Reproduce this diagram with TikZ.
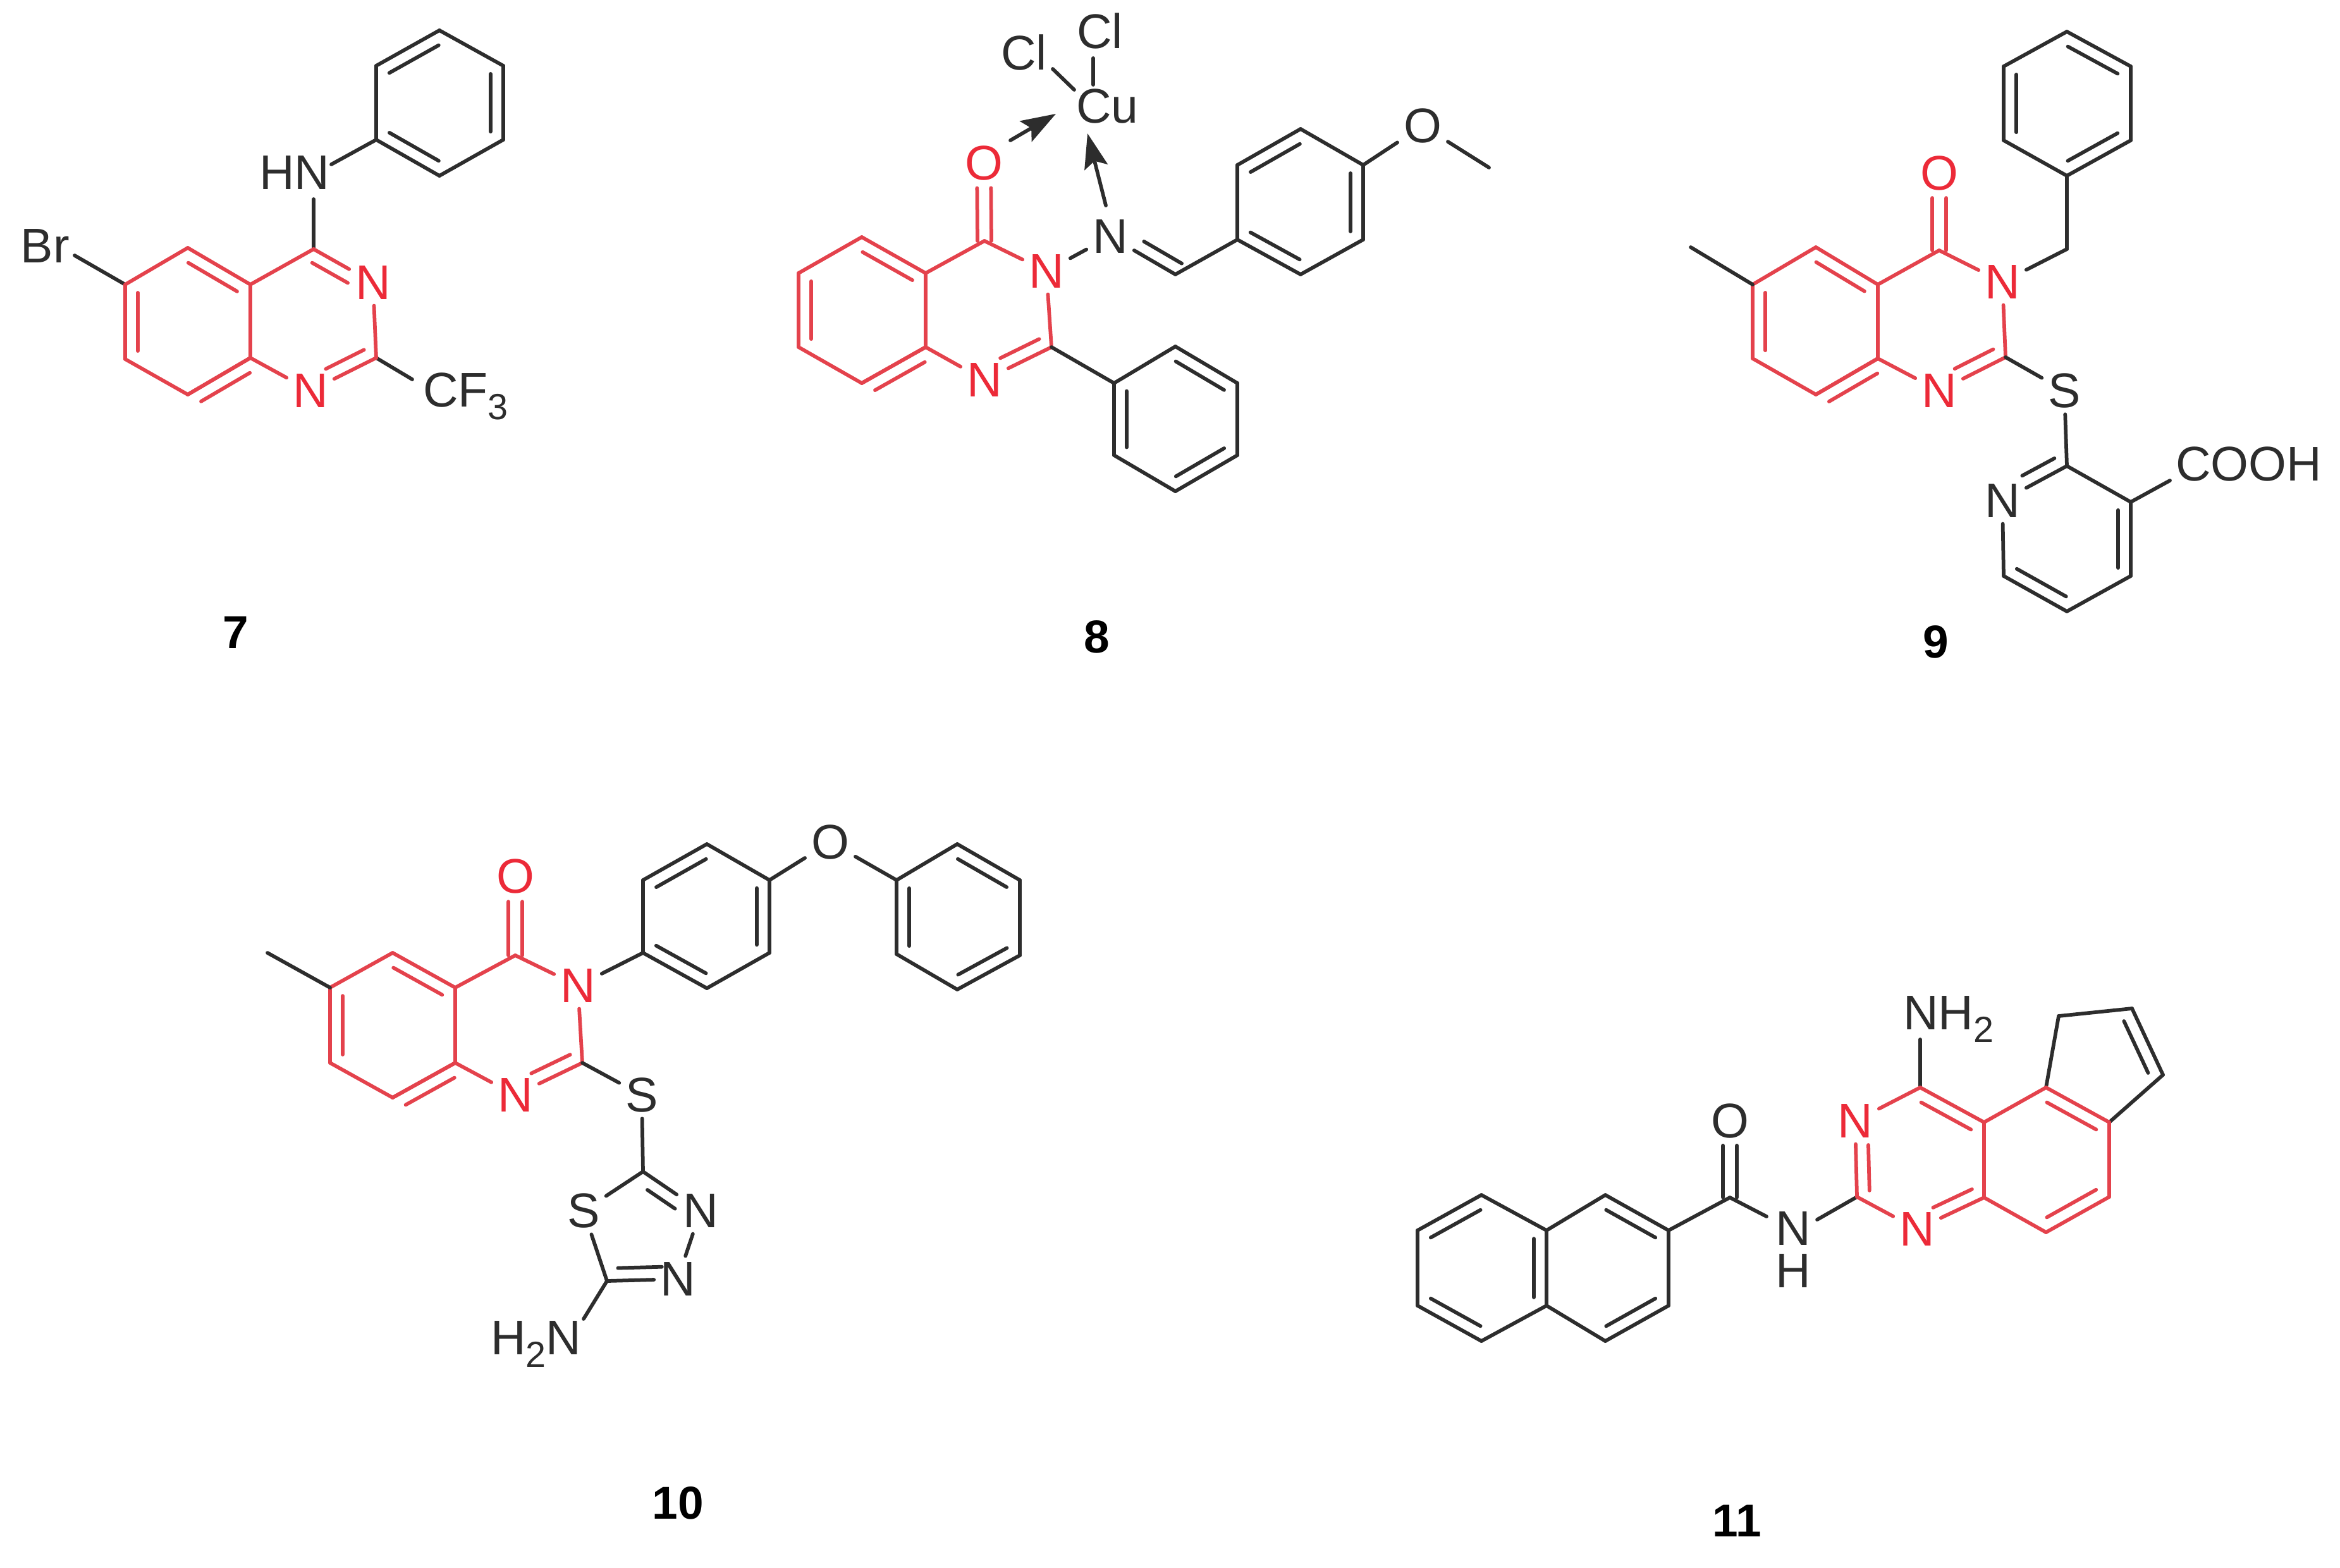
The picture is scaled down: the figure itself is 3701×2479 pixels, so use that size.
\documentclass[tikz,border=0pt]{standalone}
\usepackage{fontspec}
\setmainfont{Liberation Sans}
\usetikzlibrary{calc,arrows.meta}
\definecolor{mred}{RGB}{228,66,76}
\definecolor{tred}{RGB}{236,42,56}
\definecolor{mblk}{RGB}{45,45,45}
\tikzset{
  rb/.style={draw=mred,line width=1.15pt,line cap=round,line join=round},
  kb/.style={draw=mblk,line width=1.15pt,line cap=round,line join=round},
  atomk/.style={font=\fontsize{15.4}{18}\selectfont,text=mblk,inner sep=0pt,outer sep=2pt},
  atomr/.style={atomk,text=tred},
  lab/.style={atomk,anchor=base west},
  num/.style={font=\fontsize{14.6}{17}\selectfont\bfseries,text=black,inner sep=0pt,anchor=base},
  coord/.style={arrows={-{Stealth[length=11pt,width=7.5pt,inset=2pt]}}},
}
% double bond drawn a->b with the ring on its right; f1,f2 limit the inner line
\newcommand\dbl[5]{\draw[#1] (#2) -- (#3);
  \draw[#1] ($(#2)!#4!(#3)!4pt!-90:(#3)$) -- ($(#2)!#5!(#3)!4pt!-90:(#3)$);}
% centred double bond (C=O)
\newcommand\dbc[3]{%
  \draw[#1] ($(#2)!2.2pt!90:(#3)$) -- ($(#2)!.68!(#3)!2.2pt!90:(#3)$);
  \draw[#1] ($(#2)!2.2pt!-90:(#3)$) -- ($(#2)!.68!(#3)!2.2pt!-90:(#3)$);}
\newcommand\subs[1]{\raisebox{-4pt}{\fontsize{11.5}{12}\selectfont #1}}
\begin{document}
\begin{tikzpicture}[x=0.2pt,y=-0.2pt]
\useasboundingbox[fill=white] (0,0) rectangle (3701,2479);

% ---------- 7 ----------
\foreach \n/\x/\y in {a1/695/48,a2/796/104,a3/796/221,a4/695/278,a5/595/221,a6/595/104,
  aC4/496/394,aC2/595/566,aC8a/396/566,aC4a/396/450,aC5/297/392,aC6/198/450,aC7/198/568,aC8/297/624,
  aBr/118/404,aHNr/524/260,aHNb/496/315,aCF/652/600}
  \coordinate (\n) at (\x,\y);
\node[atomr] (aN3) at (590,447) {N};
\node[atomr] (aN1) at (491,618) {N};
\node[lab] (aHN) at (400,299.5) {HN};
\node[lab] (aBrL) at (23,415) {Br};
\node[lab] (aCF3) at (659,643) {CF\subs{3}};
\node[num] (n7) at (373,1025) {7};
\foreach \a/\b in {a6/a1,a2/a3,a4/a5} {\dbl{kb}{\a}{\b}{.11}{.89}}
\foreach \a/\b in {a1/a2,a3/a4,a5/a6,aHNr/a5,aHNb/aC4,aBr/aC6,aC2/aCF} \draw[kb] (\a) -- (\b);
\foreach \a/\b in {aC5/aC4a,aC8/aC8a,aC7/aC6} {\dbl{rb}{\a}{\b}{.11}{.89}}
\dbl{rb}{aC4}{aN3}{.08}{.68}
\dbl{rb}{aC2}{aN1}{.1}{.68}
\foreach \a/\b in {aC6/aC5,aC4a/aC8a,aC8a/aC8,aC7/aC8,aC4a/aC4,aN3/aC2,aN1/aC8a} \draw[rb] (\a) -- (\b);

% ---------- 8 ----------
\foreach \n/\x/\y in {bC4a/1464/432,bC8a/1464/549,bC8/1363/606,bC7/1263/549,bC6/1263/432,bC5/1363/375,
  bC4/1557/381,bC2/1663/549,
  bP1/1762/606,bP2/1859/548,bP3/1957/606,bP4/1957/720,bP5/1859/777,bP6/1762/720,
  bCH/1859/434,bA1/1957/379,bA2/1957/261,bA3/2057/204,bA4/2156/261,bA5/2156/379,bA6/2057/434,
  bMe/2355/265,
  bClt/1729/92,bCut/1729/134,bCll/1665/109,bCul/1699/142,
  bAs/1598/222,bAe/1670/180,bBs/1749/325,bBe/1720/211}
  \coordinate (\n) at (\x,\y);
\node[atomr] (bO) at (1556,258) {O};
\node[atomr] (bN3) at (1655,429) {N};
\node[atomr] (bN1) at (1557,601) {N};
\node[atomk] (bNi) at (1756,374) {N};
\node[atomk] (bOM) at (2250,199) {O};
\node[lab] (bCu) at (1692,194) {Cu};
\node[lab] (bCl1) at (1693,76) {Cl};
\node[lab] (bCl2) at (1573,110.5) {Cl};
\node[num] (n8) at (1735,1032) {8};
\foreach \a/\b in {bC5/bC4a,bC8/bC8a,bC7/bC6} {\dbl{rb}{\a}{\b}{.11}{.89}}
\foreach \a/\b in {bC6/bC5,bC4a/bC8a,bC8a/bC8,bC7/bC8,bC4a/bC4,bC4/bN3,bN3/bC2,bN1/bC8a} \draw[rb] (\a) -- (\b);
\dbl{rb}{bC2}{bN1}{.1}{.68}
\dbc{rb}{bC4}{bO}
\foreach \a/\b in {bP2/bP3,bP4/bP5,bP6/bP1,bA2/bA3,bA4/bA5,bA6/bA1} {\dbl{kb}{\a}{\b}{.11}{.89}}
\foreach \a/\b in {bP1/bP2,bP3/bP4,bP5/bP6,bC2/bP1,bA1/bA2,bA3/bA4,bA5/bA6,bCH/bA1,bA4/bOM,bOM/bMe,bN3/bNi,bClt/bCut,bCll/bCul} \draw[kb] (\a) -- (\b);
\dbl{kb}{bCH}{bNi}{.0}{.58}
\draw[kb,coord] (bAs) -- (bAe);
\draw[kb,coord] (bBs) -- (bBe);

% ---------- 9 ----------
\foreach \n/\x/\y in {cMe/2674/391,cC6/2772/450,cC5/2872/391,cC4a/2970/450,cC8a/2970/567,cC8/2872/624,cC7/2772/567,
  cC4/3067/396,cC2/3172/565,cCH/3269/394,
  cP1/3269/278,cP2/3370/222,cP3/3370/105,cP4/3269/50,cP5/3169/105,cP6/3169/222,
  cQ2/3269/737,cQ3/3370/794,cQ4/3370/911,cQ5/3269/967,cQ6/3169/911,cCO/3432/760}
  \coordinate (\n) at (\x,\y);
\node[atomr] (cO) at (3067,274) {O};
\node[atomr] (cN3) at (3167,446) {N};
\node[atomr] (cN1) at (3067,618) {N};
\node[atomk] (cS) at (3265,618) {S};
\node[atomk] (cNp) at (3167,792) {N};
\node[lab] (cOOH) at (3431,760) {COOH};
\node[num] (n9) at (3062,1040) {9};
\foreach \a/\b in {cC5/cC4a,cC8/cC8a,cC7/cC6} {\dbl{rb}{\a}{\b}{.11}{.89}}
\foreach \a/\b in {cC6/cC5,cC4a/cC8a,cC8a/cC8,cC7/cC8,cC4a/cC4,cC4/cN3,cN3/cC2,cN1/cC8a} \draw[rb] (\a) -- (\b);
\dbl{rb}{cC2}{cN1}{.1}{.68}
\dbc{rb}{cC4}{cO}
\foreach \a/\b in {cP4/cP3,cP2/cP1,cP6/cP5,cQ3/cQ4,cQ5/cQ6} {\dbl{kb}{\a}{\b}{.11}{.89}}
\dbl{kb}{cQ2}{cNp}{.1}{.6}
\foreach \a/\b in {cMe/cC6,cP3/cP2,cP1/cP6,cP5/cP4,cP1/cCH,cCH/cN3,cC2/cS,cS/cQ2,cQ2/cQ3,cQ4/cQ5,cQ6/cNp,cQ3/cCO} \draw[kb] (\a) -- (\b);

% ---------- 10 ----------
\foreach \n/\x/\y in {dMe/423/1507,dC6/522/1562,dC5/621/1507,dC4a/720/1562,dC8a/720/1681,dC8/621/1736,dC7/522/1681,
  dC4/815/1511,dC2/921/1681,
  dA1/1017/1507,dA2/1017/1392,dA3/1118/1335,dA4/1217/1392,dA5/1217/1507,dA6/1118/1563,
  dP1/1418/1392,dP2/1514/1335,dP3/1613/1392,dP4/1613/1511,dP5/1514/1565,dP6/1418/1509,
  dT2/1017/1853,dT5/960/2026,dNH/923/2086}
  \coordinate (\n) at (\x,\y);
\node[atomr] (dO) at (815,1386) {O};
\node[atomr] (dN3) at (914,1559) {N};
\node[atomr] (dN1) at (815,1732) {N};
\node[atomk] (dS) at (1015,1732) {S};
\node[atomk] (dOp) at (1313,1332) {O};
\node[atomk] (dSt) at (923,1915) {S};
\node[atomk] (dNu) at (1108,1915) {N};
\node[atomk] (dNl) at (1072,2023) {N};
\node[lab] (dH2N) at (766,2142) {H\subs{2}N};
\node[num] (n10) at (1072,2402) {10};
\foreach \a/\b in {dC5/dC4a,dC8/dC8a,dC7/dC6} {\dbl{rb}{\a}{\b}{.11}{.89}}
\foreach \a/\b in {dC6/dC5,dC4a/dC8a,dC8a/dC8,dC7/dC8,dC4a/dC4,dC4/dN3,dN3/dC2,dN1/dC8a} \draw[rb] (\a) -- (\b);
\dbl{rb}{dC2}{dN1}{.1}{.68}
\dbc{rb}{dC4}{dO}
\foreach \a/\b in {dA2/dA3,dA4/dA5,dA6/dA1,dP2/dP3,dP4/dP5,dP6/dP1} {\dbl{kb}{\a}{\b}{.11}{.89}}
\dbl{kb}{dT2}{dNu}{.2}{.68}
\dbl{kb}{dNl}{dT5}{.22}{.84}
\foreach \a/\b in {dMe/dC6,dN3/dA1,dA1/dA2,dA3/dA4,dA5/dA6,dA4/dOp,dOp/dP1,dP1/dP2,dP3/dP4,dP5/dP6,dC2/dS,dS/dT2,dT2/dSt,dSt/dT5,dNu/dNl,dT5/dNH} \draw[kb] (\a) -- (\b);

% ---------- 11 ----------
\foreach \n/\x/\y in {eL1/2343/1890,eJ1/2446/1946,eJ2/2446/2065,eL2/2343/2121,eL3/2242/2065,eL4/2242/1946,
  eR1/2539/1890,eR2/2639/1946,eR3/2639/2065,eR4/2539/2121,
  eCO/2736/1894,eC2/2937/1893,eC4/3037/1720,eNH2b/3037/1644,eC8a/3138/1894,eC4a/3138/1775,
  eK1/3236/1720,eK2/3336/1775,eK3/3336/1893,eK4/3236/1949,
  eV1/3256/1607,eV2/3372/1595,eV3/3421/1700,eNl/2794/1924,eNr/2874/1929}
  \coordinate (\n) at (\x,\y);
\node[atomk] (eO) at (2736,1773) {O};
\node[atomk,align=center,font=\fontsize{15.4}{13.4}\selectfont] (eNHv) at (2836,1976) {N\\H};
\node[atomr] (eN3) at (2934,1773) {N};
\node[atomr] (eN1) at (3032,1944) {N};
\node[lab] (eNH2) at (3000,1628) {NH\subs{2}};
\node[num] (n11) at (2747,2430) {11};
\foreach \a/\b in {eL4/eL1,eL2/eL3,eR1/eR2,eR3/eR4,eJ1/eJ2,eV2/eV3} {\dbl{kb}{\a}{\b}{.11}{.89}}
\foreach \a/\b in {eL1/eJ1,eL3/eL4,eJ2/eL2,eJ1/eR1,eR2/eR3,eR4/eJ2,eR2/eCO,eCO/eNl,eNr/eC2,eC4/eNH2b,eK1/eV1,eV1/eV2,eV3/eK2} \draw[kb] (\a) -- (\b);
\dbc{kb}{eCO}{eO}
\foreach \a/\b in {eC4/eC4a,eK1/eK2,eK3/eK4} {\dbl{rb}{\a}{\b}{.11}{.89}}
\dbl{rb}{eC8a}{eN1}{.1}{.68}
\dbl{rb}{eC2}{eN3}{.08}{.68}
\foreach \a/\b in {eN3/eC4,eC4a/eC8a,eC4a/eK1,eK2/eK3,eK4/eC8a,eN1/eC2} \draw[rb] (\a) -- (\b);
\end{tikzpicture}
\end{document}
